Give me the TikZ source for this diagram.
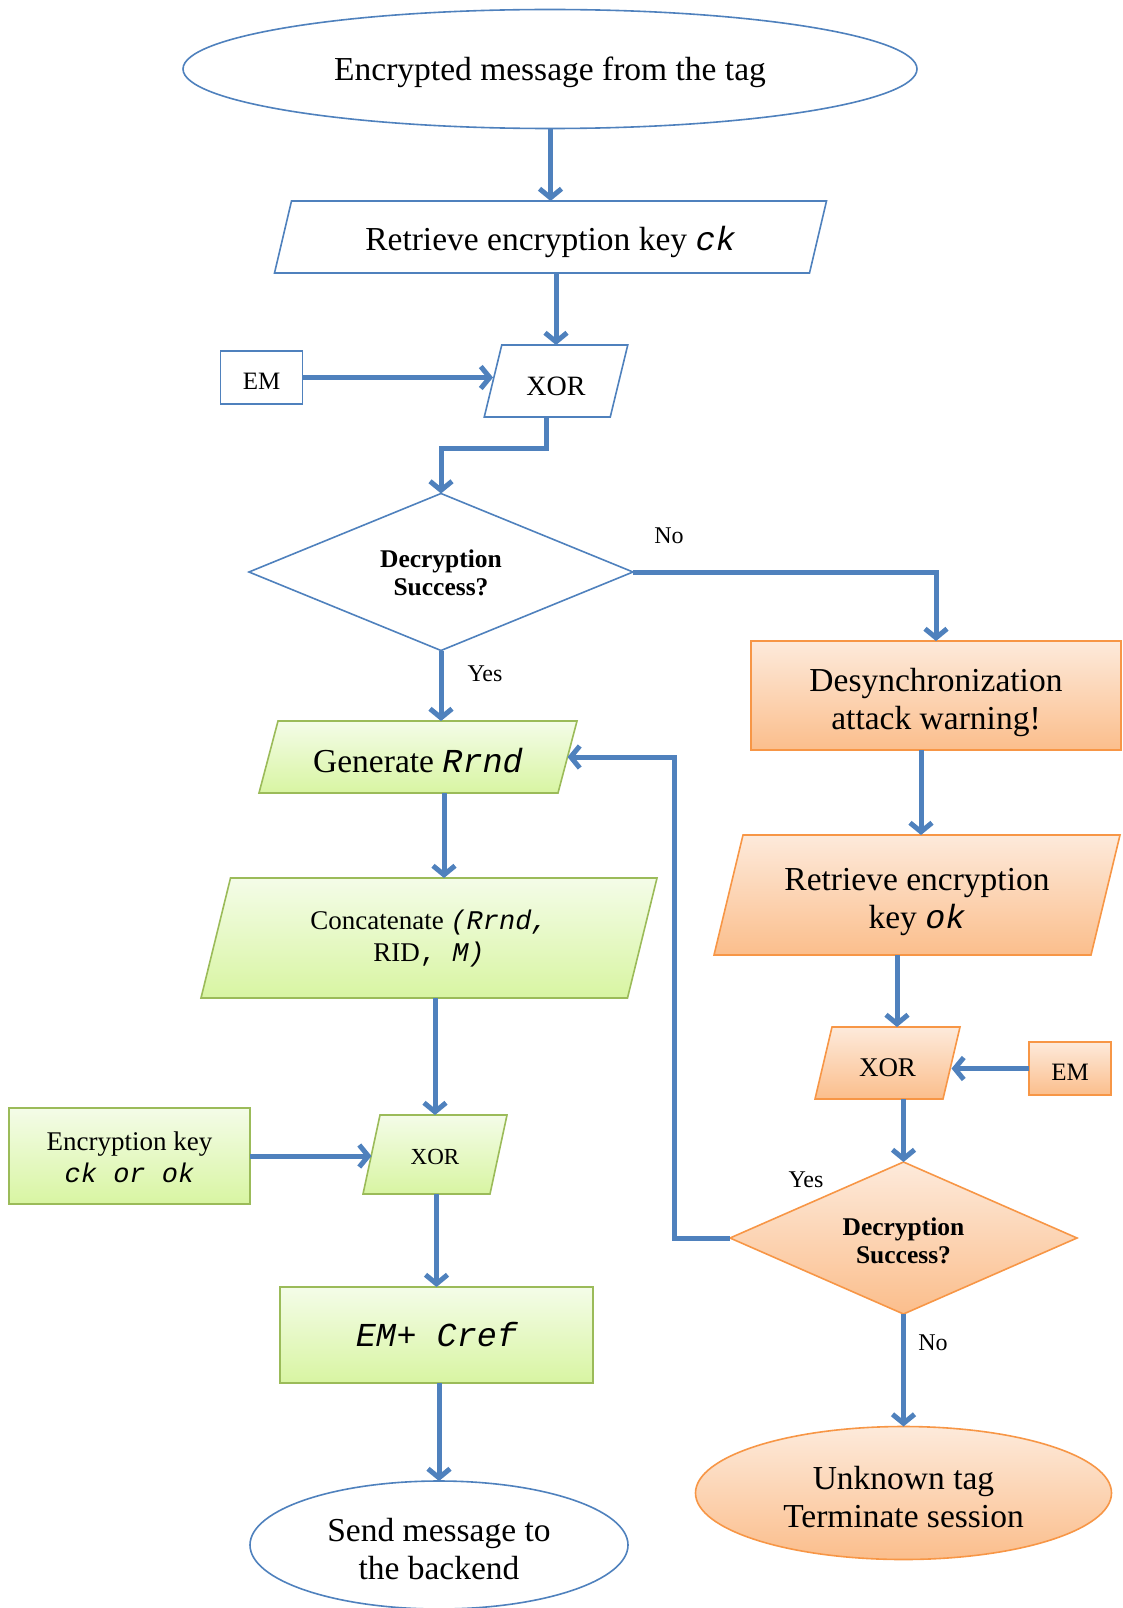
\documentclass[tikz,border=0pt]{standalone}
\usepackage{fontspec}
\setmainfont{Liberation Serif}
\setmonofont{Liberation Mono}
\usetikzlibrary{shapes.geometric,arrows.meta,calc}

\definecolor{flowblue}{HTML}{4F81BD}
\definecolor{greenline}{HTML}{9BBB59}
\definecolor{greentop}{HTML}{F4FCE8}
\definecolor{greenbot}{HTML}{D8F5A2}
\definecolor{orangeline}{HTML}{F79646}
\definecolor{orangetop}{HTML}{FDEADB}
\definecolor{orangebot}{HTML}{FBBE8C}

\newcommand\kw[1]{{\ttfamily\itshape #1}}
\newcommand\szmain{\fontsize{33.5}{38}\selectfont}
\newcommand\szmid{\fontsize{27}{32}\selectfont}
\newcommand\szem{\fontsize{25}{30}\selectfont}
\newcommand\szdec{\fontsize{25.5}{28}\selectfont\bfseries}
\newcommand\szlbl{\fontsize{24}{28}\selectfont}

% slanted input/output box: name, centre, mid width, height, slant, style
\newcommand\slantbox[6]{%
  \node[minimum width=#3, minimum height=#4] (#1) at #2 {};
  \path[#6] ([xshift={-(#5)/2}]#1.south west) -- ([xshift={(#5)/2}]#1.north west)
    -- ([xshift={(#5)/2}]#1.north east) -- ([xshift={-(#5)/2}]#1.south east) -- cycle;
}

\tikzset{
  every node/.style={inner sep=0pt, outer sep=0pt, align=center},
  blueshape/.style={draw=flowblue, fill=white, line width=1.6pt},
  greenshape/.style={draw=greenline, top color=greentop, bottom color=greenbot, line width=1.6pt},
  orangeshape/.style={draw=orangeline, top color=orangetop, bottom color=orangebot, line width=1.6pt},
  decision/.style={diamond},
  lbl/.style={font=\szlbl},
  arr/.style={draw=flowblue, line width=5pt,
    -{Straight Barb[length=9pt,width=22pt]}},
}

\begin{document}
\begin{tikzpicture}[x=1pt,y=-1pt]
\useasboundingbox (0,0) rectangle (1123,1608);

% ---- shapes, left column
\node[ellipse, blueshape, minimum width=734, minimum height=119] (msg) at (550,69) {};
\slantbox{ck}{(550.5,237)}{535}{72}{17}{blueshape}
\node[rectangle, blueshape, minimum width=82, minimum height=53] (em1) at (261.5,377.5) {};
\slantbox{xor1}{(556,381)}{126}{72}{17.5}{blueshape}
\node[decision, blueshape, minimum width=384, minimum height=157] (dec1) at (441,572) {};
\slantbox{gen}{(418,757)}{299}{72}{19}{greenshape}
\slantbox{cat}{(429,938)}{426.5}{120}{29.5}{greenshape}
\node[rectangle, greenshape, minimum width=241, minimum height=96] (key) at (129.5,1156) {};
\slantbox{xor3}{(435,1154.5)}{127}{79}{17}{greenshape}
\node[rectangle, greenshape, minimum width=313, minimum height=96] (emc) at (436.5,1335) {};
\node[ellipse, blueshape, minimum width=378, minimum height=128] (send) at (439,1545) {};

% ---- shapes, right column
\node[rectangle, orangeshape, minimum width=370, minimum height=109] (desync) at (936,695.5) {};
\slantbox{ok}{(917,895)}{377}{120}{29}{orangeshape}
\slantbox{xor2}{(887.5,1063)}{128}{72}{17}{orangeshape}
\node[rectangle, orangeshape, minimum width=82, minimum height=53] (em2) at (1070,1068.5) {};
\node[decision, orangeshape, minimum width=347, minimum height=152] (dec2) at (903.5,1238) {};
\node[ellipse, orangeshape, minimum width=416, minimum height=133] (unk) at (903.5,1493) {};

% ---- texts inside the shapes
\node[font=\szmain] (msgtext) at ([yshift=-3]msg.center) {Encrypted message from the tag};
\node[font=\szmain] (cktext) at ([yshift=-5]ck.center) {Retrieve encryption key \kw{ck}};
\node[font=\szem] (em1text) at ([yshift=-4]em1.center) {EM};
\node[font=\fontsize{28}{32}\selectfont] (xor1text) at ([yshift=-5]xor1.center) {XOR};
\node[font=\szdec] (dec1text) at ([yshift=-1]dec1.center) {Decryption\\Success?};
\node[font=\szmain] (gentext) at ([yshift=-4]gen.center) {Generate \kw{Rrnd}};
\node[font=\szmid] (cattext) at ([yshift=-1]cat.center) {Concatenate \kw{(Rrnd,}\\RID\texttt{, }\kw{M)}};
\node[font=\szmid] (keytext) at ([yshift=-1]key.center) {Encryption key\\\kw{ck or ok}};
\node[font=\fontsize{23}{28}\selectfont] (xor3text) at ([yshift=-2]xor3.center) {XOR};
\node[font=\szmain] (emctext) at (emc.center) {\kw{EM}\texttt{+ }\kw{Cref}};
\node[font=\szmain] (sendtext) at ([yshift=-4]send.center) {Send message to\\the backend};
\node[font=\szmain] (desynctext) at ([yshift=-7]desync.center) {Desynchronization\\attack warning!};
\node[font=\szmain] (oktext) at ([yshift=-7]ok.center) {Retrieve encryption\\key \kw{ok}};
\node[font=\fontsize{27}{32}\selectfont] (xor2text) at ([yshift=-5]xor2.center) {XOR};
\node[font=\szem] (em2text) at ([yshift=-4]em2.center) {EM};
\node[font=\szdec] (dec2text) at ([yshift=-3]dec2.center) {Decryption\\Success?};
\node[font=\szmain] (unktext) at ([yshift=-4]unk.center) {Unknown tag\\Terminate session};

% ---- branch labels
\node[lbl] (no1) at (669,536) {No};
\node[lbl] (yes1) at (485,674) {Yes};
\node[lbl] (yes2) at (806,1180) {Yes};
\node[lbl] (no2) at (933,1343) {No};

% ---- connectors
\draw[arr] (msg.south -| ck.north) -- (ck.north);
\draw[arr] (ck.south -| xor1.north) -- (xor1.north);
\draw[arr] (em1.east) -- (xor1.west |- em1.east);
\draw[arr] ([xshift=-10pt]xor1.south) -- ++(0,31) -| (dec1.north);
\draw[arr] (dec1.east) -| (desync.north);
\draw[arr] (dec1.south) -- (dec1.south |- gen.north);
\draw[arr] ([xshift=26pt]gen.south) -- ([xshift=26pt]gen.south |- cat.north);
\draw[arr] (xor3.north |- cat.south) -- (xor3.north);
\draw[arr] (key.east) -- (xor3.west |- key.east);
\draw[arr] (emc.north |- xor3.south) -- (emc.north);
\draw[arr] (send.north |- emc.south) -- (send.north);

\draw[arr] ([xshift=4pt]ok.north |- desync.south) -- ([xshift=4pt]ok.north);
\draw[arr] ([xshift=-20pt]ok.south) -- ([xshift=-20pt]ok.south |- xor2.north);
\draw[arr] (em2.west) -- (xor2.east |- em2.west);
\draw[arr] (dec2.north |- xor2.south) -- (dec2.north);
\draw[arr] (dec2.south) -- (unk.north);
\draw[arr] (dec2.west) -- ++(-56,0) |- (gen.east);
\end{tikzpicture}
\end{document}
